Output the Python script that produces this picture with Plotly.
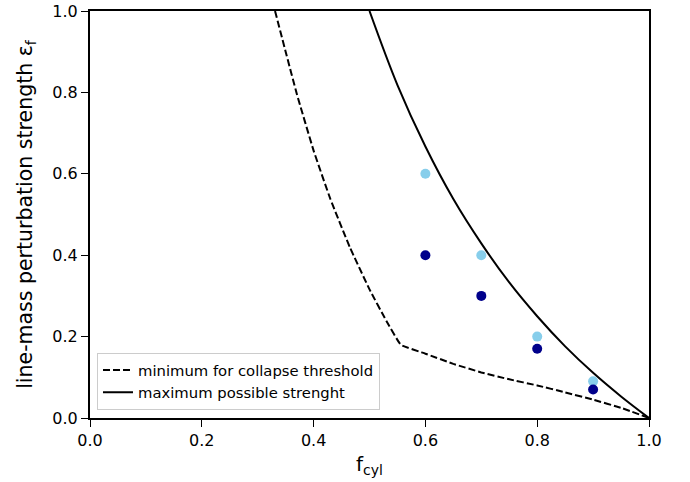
import plotly.graph_objects as go

# Minimum for collapse threshold (dashed)
f_min = [0.331, 0.35, 0.37, 0.40, 0.43, 0.465, 0.50, 0.53, 0.556,
         0.60, 0.65, 0.70, 0.75, 0.80, 0.85, 0.90, 0.95, 1.0]
eps_min = [1.0, 0.90, 0.796, 0.657, 0.538, 0.419, 0.316, 0.239, 0.18,
           0.158, 0.133, 0.112, 0.095, 0.080, 0.063, 0.045, 0.025, 0.0]

# Maximum possible strength (solid)
f_max = [0.5, 0.55, 0.6, 0.65, 0.7, 0.75, 0.8, 0.85, 0.9, 0.95, 1.0]
eps_max = [1.0, 0.818, 0.667, 0.538, 0.429, 0.333, 0.25, 0.176, 0.111, 0.053, 0.0]

# Simulation points
f_light = [0.6, 0.7, 0.8, 0.9]
eps_light = [0.6, 0.4, 0.2, 0.09]
f_dark = [0.6, 0.7, 0.8, 0.9]
eps_dark = [0.4, 0.3, 0.17, 0.07]

font = "DejaVu Sans"

fig = go.Figure()
fig.add_trace(go.Scatter(x=f_min, y=eps_min, mode="lines",
                         line=dict(color="black", width=2, dash="7px,3px", shape="spline", smoothing=0.3),
                         name="minimum for collapse threshold"))
fig.add_trace(go.Scatter(x=f_max, y=eps_max, mode="lines",
                         line=dict(color="black", width=2, shape="spline"),
                         name="maximum possible strenght"))
fig.add_trace(go.Scatter(x=f_light, y=eps_light, mode="markers",
                         marker=dict(color="#87CEEB", size=10), showlegend=False))
fig.add_trace(go.Scatter(x=f_dark, y=eps_dark, mode="markers",
                         marker=dict(color="#00008B", size=10), showlegend=False))

axis_common = dict(showline=True, linecolor="black", linewidth=2, mirror=True, ticks="outside",
                   ticklen=7, tickwidth=1.3, tickcolor="black", showgrid=False, zeroline=False,
                   automargin=False, ticklabeloverflow="allow",
                   tickfont=dict(family=font, size=16, color="black"), tickformat=".1f", dtick=0.2)

fig.update_xaxes(range=[0, 1],
                 title=dict(text="f<sub>cyl</sub>", font=dict(family=font, size=20, color="black"), standoff=8),
                 **axis_common)
fig.update_yaxes(range=[0, 1],
                 title=dict(text="line-mass perturbation strength ε<sub>f</sub>",
                            font=dict(family=font, size=20.5, color="black"), standoff=14),
                 **axis_common)

fig.update_layout(
    width=690, height=482,
    margin=dict(l=90, r=41, t=11, b=64),
    plot_bgcolor="white", paper_bgcolor="white",
    font=dict(family=font, color="black"),
    legend=dict(x=0.0125, y=0.02, xanchor="left", yanchor="bottom", bgcolor="rgba(255,255,255,0.8)",
                bordercolor="#cccccc", borderwidth=1, font=dict(family=font, size=14.8, color="black"),
                tracegroupgap=0, itemwidth=30),
)

fig.write_html("out.html", config={"displayModeBar": False},
               post_script="document.body.style.margin='0';document.body.style.padding='0';")
